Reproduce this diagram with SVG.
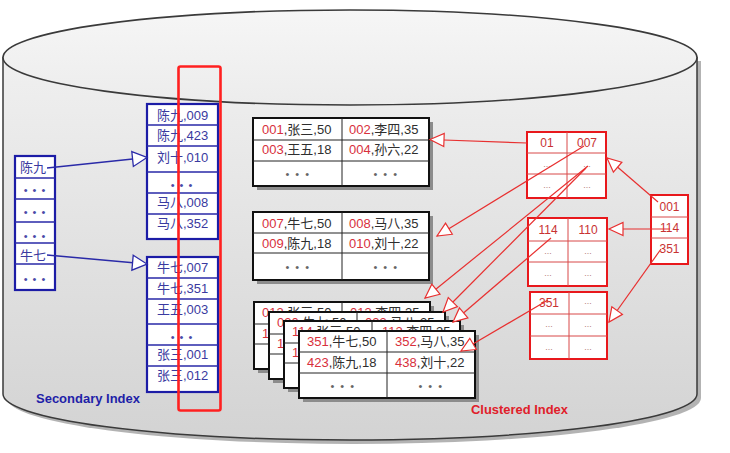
<svg xmlns="http://www.w3.org/2000/svg" width="730" height="453" viewBox="0 0 730 453">
<defs>
<linearGradient id="bodyg" x1="0" y1="0" x2="0" y2="1">
<stop offset="0" stop-color="#f0f0f0"/><stop offset="1" stop-color="#d3d3d3"/>
</linearGradient>
<linearGradient id="topg" x1="0" y1="0" x2="0" y2="1">
<stop offset="0" stop-color="#f6f6f6"/><stop offset="1" stop-color="#ececec"/>
</linearGradient>
<marker id="ab" markerUnits="userSpaceOnUse" markerWidth="18" markerHeight="18" viewBox="0 0 18 18" refX="16" refY="9" orient="auto">
<path d="M1.5,1.5 L16,9 L1.5,16.5 Z" fill="#fff" stroke="#2a2aa8" stroke-width="1.3"/>
</marker>
<marker id="ar" markerUnits="userSpaceOnUse" markerWidth="18" markerHeight="18" viewBox="0 0 18 18" refX="16" refY="9" orient="auto">
<path d="M2,2.5 L16,9 L2,15.5 Z" fill="#fff" stroke="#e83030" stroke-width="1.2"/>
</marker>
</defs>
<style>
text{font-family:"Liberation Sans","Noto Sans CJK SC",sans-serif;}
.sb{fill:none;stroke:#1c1ca6;stroke-width:2.2;}
.sbf{fill:#fff;stroke:#1c1ca6;stroke-width:2.2;}
.sl{fill:none;stroke:#2a2aa8;stroke-width:1.3;}
.st{font-size:13px;fill:#3a3aa0;}
.sd{font-size:11px;fill:#4a4aa8;letter-spacing:1px;text-anchor:middle;}
.sh{fill:#8c8c8c;}
.tb{fill:#fff;stroke:#111;stroke-width:2;}
.tl{fill:none;stroke:#222;stroke-width:1;}
.tt{font-size:13px;fill:#2e2e2e;}
.r{fill:#d8303c;}
.td{font-size:11px;fill:#666;letter-spacing:1.5px;text-anchor:middle;}
.cb{fill:#fff;stroke:#e8181c;stroke-width:2;}
.cl{fill:none;stroke:#d84848;stroke-width:1;}
.ct{font-size:12px;fill:#c83232;text-anchor:middle;}
.cd{font-size:9px;fill:#b88080;text-anchor:middle;}
.blue{fill:none;stroke:#2a2aa8;stroke-width:1.4;marker-end:url(#ab);}
.red{fill:none;stroke:#e83030;stroke-width:1.2;marker-end:url(#ar);}
.lbl{font-size:12px;font-weight:bold;}
</style>

<g id="cylinder">
<path d="M7,61 V398 A347,46 0 0 0 701,398 V61 Z" fill="#9a9a9a" opacity="0.75"/>
<path d="M3,57.5 V394 A347,46 0 0 0 697,394 V57.5 Z" fill="url(#bodyg)" stroke="#3a3a3a" stroke-width="1.5"/>
<ellipse cx="350" cy="57.5" rx="347" ry="47.5" fill="url(#topg)" stroke="#3a3a3a" stroke-width="1.6"/>
</g>

<g id="secondary-root">
<rect x="15" y="156" width="40" height="134" class="sbf"/>
<path d="M15,178H55M15,199H55M15,222H55M15,243H55M15,264H55" class="sl"/>
<text x="20" y="172" class="st">陈九</text>
<text x="35" y="194" class="sd">• • •</text>
<text x="35" y="216" class="sd">• • •</text>
<text x="35" y="240" class="sd">• • •</text>
<text x="20" y="260" class="st">牛七</text>
<text x="35" y="283" class="sd">• • •</text>
</g>

<g id="secondary-leaf1">
<rect x="147" y="104" width="71" height="135" class="sbf"/>
<path d="M147,125H218M147,146H218M147,172H218M147,193H218M147,214H218" class="sl"/>
<text x="157" y="120" class="st">陈九,009</text>
<text x="157" y="140" class="st">陈九,423</text>
<text x="157" y="162" class="st">刘十,010</text>
<text x="182" y="189" class="sd">• • •</text>
<text x="157" y="207" class="st">马八,008</text>
<text x="157" y="228" class="st">马八,352</text>
</g>

<g id="secondary-leaf2">
<rect x="147" y="257" width="71" height="135" class="sbf"/>
<path d="M147,278H218M147,299H218M147,324H218M147,345H218M147,366H218" class="sl"/>
<text x="157" y="272" class="st">牛七,007</text>
<text x="157" y="293" class="st">牛七,351</text>
<text x="157" y="314" class="st">王五,003</text>
<text x="182" y="341" class="sd">• • •</text>
<text x="157" y="359" class="st">张三,001</text>
<text x="157" y="380" class="st">张三,012</text>
</g>

<g id="page-001">
<rect x="257" y="122" width="176" height="68" class="sh"/>
<rect x="253" y="118" width="176" height="68" class="tb"/>
<path d="M253,140H429M253,161H429M342,118V186" class="tl"/>
<text x="262" y="133.5" class="tt"><tspan class="r">001</tspan>,张三,50</text>
<text x="349" y="133.5" class="tt"><tspan class="r">002</tspan>,李四,35</text>
<text x="262" y="154" class="tt"><tspan class="r">003</tspan>,王五,18</text>
<text x="349" y="154" class="tt"><tspan class="r">004</tspan>,孙六,22</text>
<text x="298" y="177.5" class="td">• • •</text>
<text x="386" y="177.5" class="td">• • •</text>
</g>

<g id="page-007">
<rect x="257" y="216" width="176" height="68" class="sh"/>
<rect x="253" y="212" width="176" height="68" class="tb"/>
<path d="M253,233H429M253,253H429M342,212V280" class="tl"/>
<text x="262" y="227.5" class="tt"><tspan class="r">007</tspan>,牛七,50</text>
<text x="349" y="227.5" class="tt"><tspan class="r">008</tspan>,马八,35</text>
<text x="262" y="248" class="tt"><tspan class="r">009</tspan>,陈九,18</text>
<text x="349" y="248" class="tt"><tspan class="r">010</tspan>,刘十,22</text>
<text x="298" y="271" class="td">• • •</text>
<text x="386" y="271" class="td">• • •</text>
</g>

<g id="page-012">
<rect x="258" y="306" width="176" height="67" class="sh"/>
<rect x="254" y="302" width="176" height="67" class="tb"/>
<path d="M254,324H430M254,344H430M342,302V369" class="tl"/>
<text x="262" y="317" class="tt"><tspan class="r">012</tspan>,张三,50</text>
<text x="350" y="317" class="tt"><tspan class="r">013</tspan>,李四,35</text>
<text x="262" y="338" class="tt"><tspan class="r">1</tspan></text>
</g>

<g id="page-020">
<rect x="273" y="316" width="176" height="67" class="sh"/>
<rect x="269" y="312" width="176" height="67" class="tb"/>
<path d="M269,334H445M269,354H445M357,312V379" class="tl"/>
<text x="277" y="327" class="tt"><tspan class="r">020</tspan>,牛七,50</text>
<text x="365" y="327" class="tt"><tspan class="r">023</tspan>,马八,35</text>
<text x="277" y="348" class="tt"><tspan class="r">1</tspan></text>
</g>

<g id="page-114">
<rect x="288" y="325" width="176" height="67" class="sh"/>
<rect x="284" y="321" width="176" height="67" class="tb"/>
<path d="M284,343H460M284,363H460M372,321V388" class="tl"/>
<text x="292" y="336" class="tt"><tspan class="r">114</tspan>,张三,50</text>
<text x="382" y="336" class="tt"><tspan class="r">112</tspan>,李四,35</text>
<text x="292" y="357" class="tt"><tspan class="r">1</tspan></text>
</g>

<g id="page-351">
<rect x="303" y="335" width="176" height="67" class="sh"/>
<rect x="299" y="331" width="176" height="67" class="tb"/>
<path d="M299,352H475M299,373H475M387,331V398" class="tl"/>
<text x="307" y="346" class="tt"><tspan class="r">351</tspan>,牛七,50</text>
<text x="395" y="346" class="tt"><tspan class="r">352</tspan>,马八,35</text>
<text x="307" y="367" class="tt"><tspan class="r">423</tspan>,陈九,18</text>
<text x="395" y="367" class="tt"><tspan class="r">438</tspan>,刘十,22</text>
<text x="343" y="390" class="td">• • •</text>
<text x="431" y="390" class="td">• • •</text>
</g>

<g id="clustered-root">
<rect x="651" y="195" width="37" height="69" class="cb" stroke-width="2.6"/>
<path d="M651,217H688M651,238H688" class="cl"/>
<text x="669.5" y="211" class="ct">001</text>
<text x="669.5" y="232" class="ct">114</text>
<text x="669.5" y="253" class="ct">351</text>
</g>

<g id="clustered-1">
<rect x="527" y="132" width="79" height="66" class="cb"/>
<path d="M527,153H606M527,174H606M567,132V198" class="cl"/>
<text x="547" y="147" class="ct">01</text>
<text x="587" y="147" class="ct">007</text>
<text x="547" y="167" class="cd">...</text>
<text x="587" y="167" class="cd">...</text>
<text x="547" y="188" class="cd">...</text>
<text x="587" y="188" class="cd">...</text>
</g>

<g id="clustered-2">
<rect x="528" y="218" width="79" height="68" class="cb"/>
<path d="M528,241H607M528,262H607M568,218V286" class="cl"/>
<text x="548" y="234" class="ct">114</text>
<text x="588" y="234" class="ct">110</text>
<text x="548" y="254" class="cd">...</text>
<text x="588" y="254" class="cd">...</text>
<text x="548" y="276" class="cd">...</text>
<text x="588" y="276" class="cd">...</text>
</g>

<g id="clustered-3">
<rect x="530" y="292" width="77" height="67" class="cb"/>
<path d="M530,314H607M530,336H607M569,292V359" class="cl"/>
<text x="549" y="307" class="ct">351</text>
<text x="588" y="304" class="cd">...</text>
<text x="549" y="327" class="cd">...</text>
<text x="588" y="327" class="cd">...</text>
<text x="549" y="350" class="cd">...</text>
<text x="588" y="350" class="cd">...</text>
</g>

<g id="connectors">
<path d="M47,168 L147,157.5" class="blue"/>
<path d="M47,255 L147,264" class="blue"/>
<path d="M527,143 L430,139.5" class="red"/>
<path d="M584,146 L437,236" class="red"/>
<path d="M588,166 L425,298" class="red"/>
<path d="M586,168 L443,312" class="red"/>
<path d="M551,238 L453,322" class="red" stroke="#e86060"/>
<path d="M548,300 L461,351" class="red"/>
<path d="M658,202 L607,158" class="red"/>
<path d="M670,229 L609,229" class="red"/>
<path d="M661,249 L609,322" class="red"/>
</g>

<g id="highlight">
<rect x="178.5" y="66.5" width="42" height="344" rx="2" fill="none" stroke="#ff2020" stroke-width="2.6"/>
</g>

<g id="labels">
<text x="36" y="403" class="lbl" fill="#1f1fa8" textLength="104" lengthAdjust="spacingAndGlyphs">Secondary Index</text>
<text x="471" y="414" class="lbl" fill="#e0202a" textLength="97" lengthAdjust="spacingAndGlyphs">Clustered Index</text>
</g>
</svg>
